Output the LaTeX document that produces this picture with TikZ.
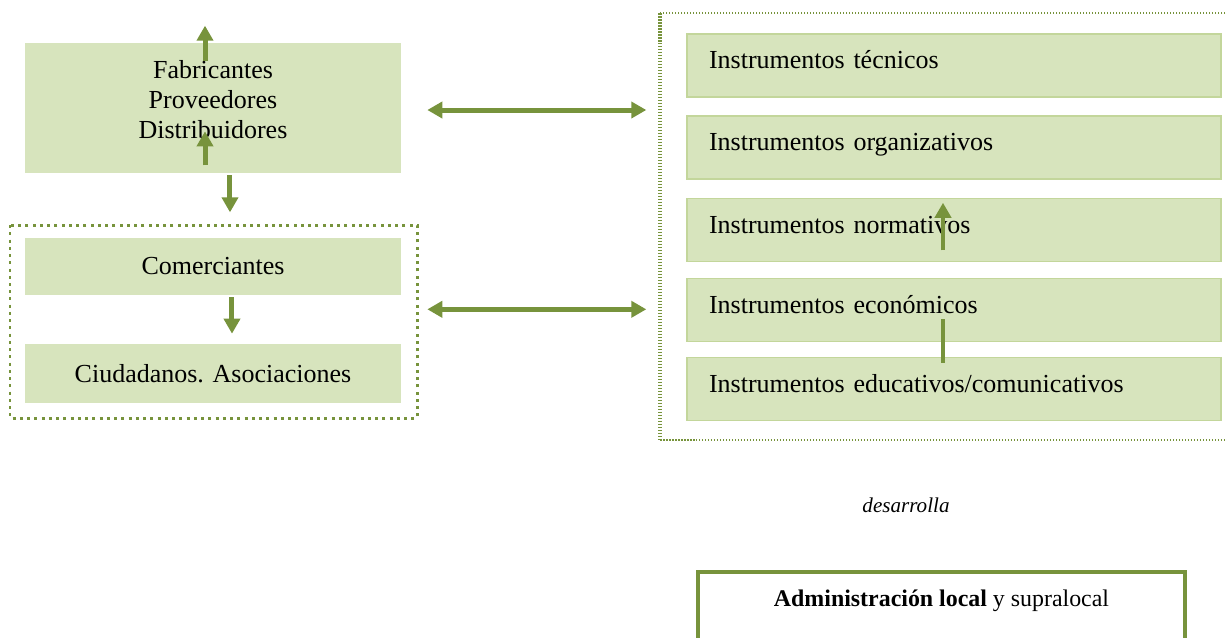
\documentclass[tikz,border=0pt]{standalone}
\usepackage{fontspec}
\setmainfont{Liberation Serif}
\usetikzlibrary{arrows.meta,calc,positioning}
\definecolor{boxfill}{RGB}{215,228,189}
\definecolor{boxborder}{RGB}{195,214,155}
\definecolor{olivegreen}{RGB}{119,147,60}

\begin{document}
\begin{tikzpicture}[
    x=0.02cm, y=-0.02cm,
    >={Triangle[width=0.32cm, length=0.3cm]},
    actorbox/.style={fill=boxfill, minimum width=7.52cm, align=center, font=\fontsize{14.8}{17.1}\selectfont},
    instbox/.style={fill=boxfill, draw=boxborder, line width=0.03cm, text width=9.8cm, inner xsep=0.44cm, minimum height=1.26cm, align=left, text height=0.4cm, text depth=0.28cm, font=\fontsize{14.8}{17.1}\selectfont},
    flowarrow/.style={olivegreen, line width=0.1cm, ->}
]

% Page
\useasboundingbox (0,0) rectangle (1227,637);
\clip (0,0) rectangle (1227,637);

% Left column: actors
\node (fab) [actorbox, minimum height=2.6cm, text depth=0.35cm] at (213,108) {Fabricantes\\Proveedores\\Distribuidores};
\node (com) [actorbox, minimum height=1.14cm] at (213,266.5) {Comerciantes};
\node (ciu) [actorbox, minimum height=1.18cm] at (213,373.5) {Ciudadanos. Asociaciones};

% Dotted frame round the consumers
\draw[olivegreen, line width=0.06cm, dash pattern=on 0.06cm off 0.085cm] (10,225) rectangle (417,418);

% Right column: instruments
\node (tec) [instbox] at (954,65.5) {Instrumentos técnicos};
\node (org) [instbox] at (954,147.5) {Instrumentos organizativos};
\node (norm) [instbox] at (954,230) {Instrumentos normativos};
\node (eco) [instbox] at (954,310) {Instrumentos económicos};
\node (edu) [instbox] at (954,389) {Instrumentos educativos/comunicativos};

% Dotted frame round the instruments
\draw[olivegreen, line width=0.055cm, dash pattern=on 0.03cm off 0.03cm] (1240,13) -- (660,13) (660,440) -- (1240,440);
\draw[olivegreen, line width=0.085cm, dash pattern=on 0.03cm off 0.03cm] (660,13) -- (660,440);

% Administration
\node (des) [font=\fontsize{12}{14}\selectfont\itshape] at (906,505) {desarrolla};
\node (admin) [draw=olivegreen, line width=0.08cm, minimum width=9.74cm, minimum height=1.36cm, text height=0.3cm, text depth=0.3cm, font=\fontsize{13.6}{16}\selectfont] at (941.5,606) {\textbf{Administración local} y supralocal};

% Arrows, left
\draw[flowarrow] ([xshift=-0.16cm,yshift=-0.36cm]fab.north) -- ([xshift=-0.16cm,yshift=0.34cm]fab.north);
\draw[flowarrow] ([xshift=-0.16cm,yshift=0.16cm]fab.south) -- ([xshift=-0.16cm,yshift=0.84cm]fab.south);
\draw[flowarrow] ([xshift=0.34cm,yshift=-0.04cm]fab.south) -- ++(0,37);
\draw[flowarrow] ([xshift=0.38cm,yshift=-0.04cm]com.south) -- ([xshift=0.38cm,yshift=0.2cm]ciu.north);

% Arrows, between the columns
\draw[flowarrow, <->] ([xshift=0.52cm,yshift=-0.04cm]fab.east) -- ++(219,0);
\draw[flowarrow, <->] ($(com.east)!0.4!(ciu.east)+(26,0)$) -- ++(219,0);

% Arrows, right
\draw[flowarrow, line width=0.09cm] ([xshift=-0.22cm,yshift=0.24cm]norm.south) -- ([xshift=-0.22cm,yshift=-0.1cm]norm.north);
\draw[olivegreen, line width=0.09cm] ([xshift=-0.22cm,yshift=-0.18cm]eco.center) -- ([xshift=-0.22cm,yshift=-0.12cm]edu.north);

\end{tikzpicture}
\end{document}
